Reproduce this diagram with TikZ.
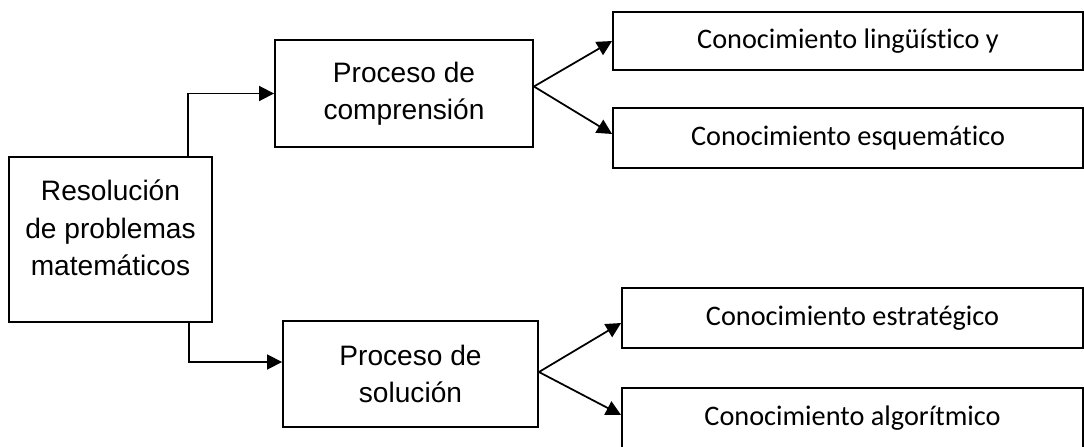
\documentclass[tikz,border=0pt]{standalone}
\usepackage{fontspec}
\setmainfont{Liberation Sans}
\newfontfamily\calibfont[Ligatures=NoCommon]{Carlito}
\usetikzlibrary{arrows.meta,calc}

\begin{document}
\begin{tikzpicture}[
  x=0.02cm, y=-0.02cm,
  pbox/.style={draw, line width=1.1pt, align=center, font=\fontsize{16}{21.3}\selectfont},
  kbox/.style={draw, line width=1.1pt, align=center, minimum width=9.4cm, minimum height=1.2cm, font=\calibfont\fontsize{16.1}{19}\selectfont},
  arrow/.style={-{Triangle[length=0.3cm, width=0.3cm]}, line width=1pt},
]
\useasboundingbox (0,0) rectangle (1084,446);

\node[pbox, minimum width=4.06cm, minimum height=3.3cm, text depth=0.46cm] (res) at (110.5,239.5) {Resolución\\de problemas\\matemáticos};
\node[pbox, minimum width=5.16cm, minimum height=2.14cm] (comp) at (404,93.5) {Proceso de\\comprensión};
\node[pbox, minimum width=5.1cm, minimum height=2.12cm] (sol) at (410.5,374) {Proceso de\\solución};

\node[kbox, minimum height=1.16cm] (ling) at (848,41) {Conocimiento lingüístico y};
\node[kbox] (esq) at (848,138) {Conocimiento esquemático};
\node[kbox, minimum width=9.22cm] (estr) at (852.5,318) {Conocimiento estratégico};
\node[kbox, minimum width=9.22cm] (alg) at (852.5,418) {Conocimiento algorítmico};

\draw[arrow] ($(res.north)+(77.5,0)$) |- (comp.west);
\draw[arrow] ($(res.south)+(78.5,0)$) |- ($(sol.west)+(0,-12)$);

\draw[arrow] ($(comp.east)+(0,-7)$) -- (ling.west);
\draw[arrow] ($(comp.east)+(0,-7)$) -- ($(esq.west)+(0,-4)$);
\draw[arrow] ($(sol.east)+(0,-2)$) -- ($(estr.west)+(0,5)$);
\draw[arrow] ($(sol.east)+(0,-2)$) -- ($(alg.west)+(0,-3)$);
\end{tikzpicture}
\end{document}
